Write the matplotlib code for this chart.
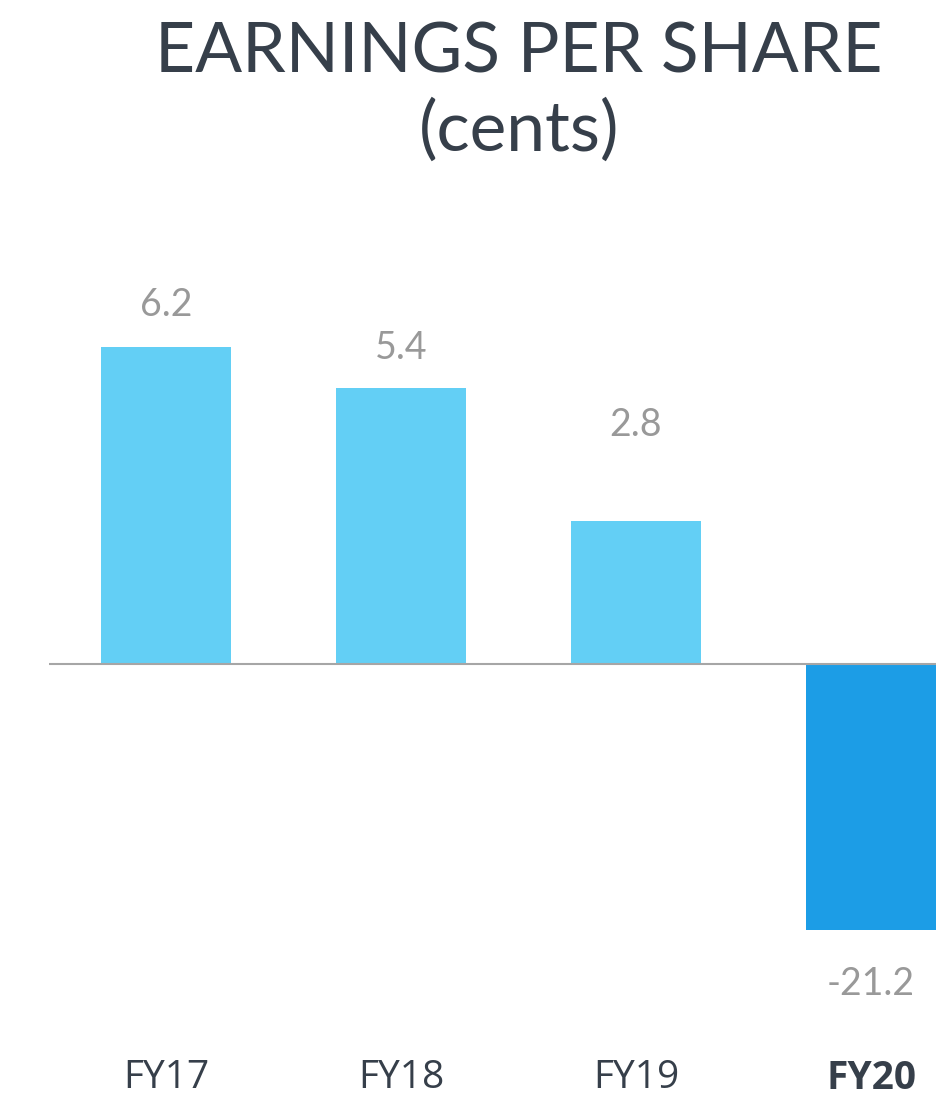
import matplotlib
matplotlib.use("Agg")
import matplotlib.pyplot as plt

# Data
categories = ["FY17", "FY18", "FY19", "FY20"]
eps_values = [6.2, 5.4, 2.8, -21.2]          # labelled values (cents)
bar_lengths = [6.2, 5.4, 2.8, -5.2]          # drawn bar lengths (FY20 bar is truncated in the original)
label_offsets_px = [42, 40, 96, -54]         # label distance from bar end, px
bar_colors = ["#63CFF5", "#63CFF5", "#63CFF5", "#1C9DE6"]

W, H = 936, 1099
dpi = 100
fig = plt.figure(figsize=(W / dpi, H / dpi), dpi=dpi)
fig.patch.set_facecolor("white")

ax_left_px, ax_bottom_px = 49, 1040
ax = fig.add_axes([ax_left_px / W, (H - ax_bottom_px) / H, 1 - ax_left_px / W, ax_bottom_px / H])

px_per_unit = 51.1
zero_px = 664
ax.set_ylim(-(ax_bottom_px - zero_px) / px_per_unit, zero_px / px_per_unit)
ax.set_xlim(-(166 - ax_left_px) / 235, 3 + (W - 871) / 235)

x = list(range(len(categories)))
ax.bar(x, bar_lengths, width=0.557, color=bar_colors, zorder=2)
ax.axhline(0, color="#A6A6A6", lw=1.5, zorder=3)

for xi, v, L, off in zip(x, eps_values, bar_lengths, label_offsets_px):
    ax.annotate(f"{v:.1f}", xy=(xi, L), xytext=(0, off * 72 / dpi),
                textcoords="offset points", ha="center", va="center",
                fontsize=27, color="#999999", family="Lato")

for s in ax.spines.values():
    s.set_visible(False)
ax.set_yticks([])
ax.set_xticks(x)
ax.set_xticklabels(categories, fontsize=28, color="#363F4A", family="Open Sans")
ax.get_xticklabels()[-1].set_fontweight("bold")
ax.tick_params(axis="x", length=0, pad=14)

fig.text(519 / W, 1 - 53 / H, "EARNINGS PER SHARE", ha="center", va="center",
         fontsize=50, color="#363F4A", family="Lato")
fig.text(519 / W, 1 - 130 / H, "(cents)", ha="center", va="center",
         fontsize=50, color="#363F4A", family="Lato")

fig.savefig("out.png", dpi=dpi, facecolor="white")
